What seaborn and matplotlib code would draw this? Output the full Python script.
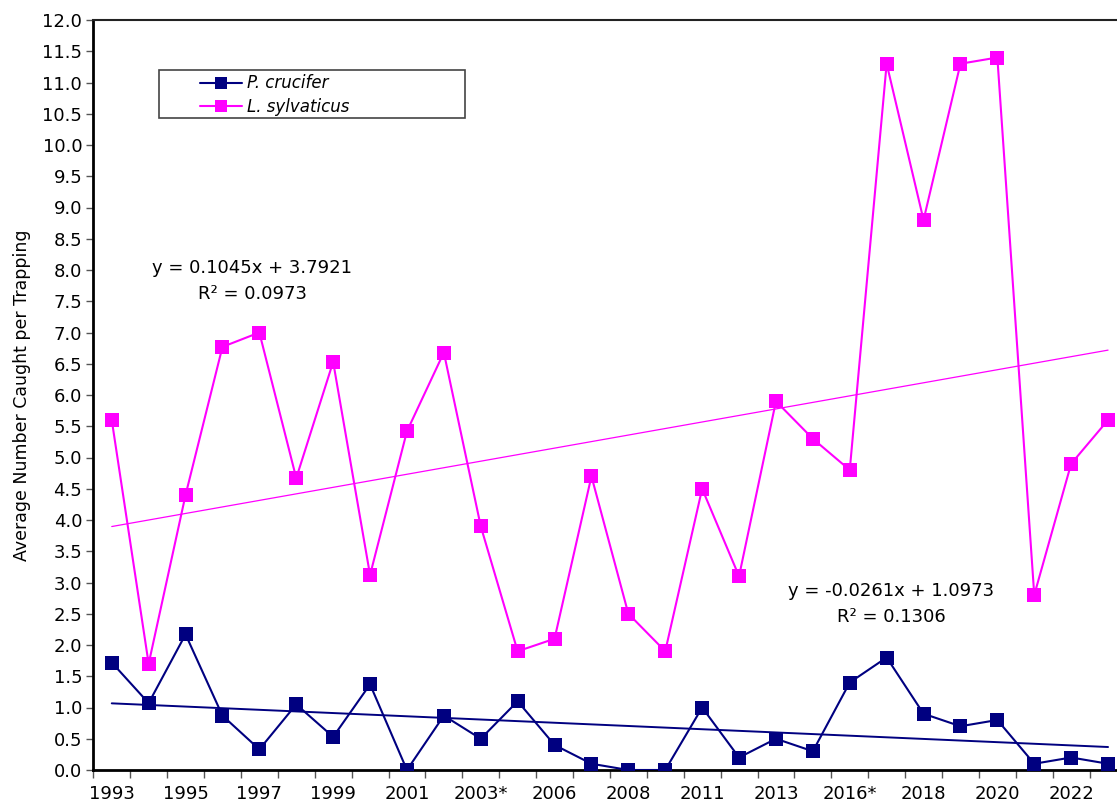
import numpy as np
import pandas as pd
import matplotlib
matplotlib.use("Agg")
import matplotlib.pyplot as plt
import seaborn as sns
from matplotlib.patches import Rectangle
from matplotlib.ticker import FixedLocator, FormatStrFormatter

years = ["1993", "1994", "1995", "1996", "1997", "1998", "1999", "2000", "2001", "2002",
         "2003*", "2005", "2006", "2007", "2008", "2010", "2011", "2012", "2013", "2015",
         "2016*", "2017", "2018", "2019", "2020", "2021", "2022", "2023"]
p_crucifer = [1.72, 1.07, 2.17, 0.87, 0.33, 1.05, 0.53, 1.37, 0.0, 0.87,
              0.5, 1.1, 0.4, 0.1, 0.0, 0.0, 1.0, 0.2, 0.5, 0.3,
              1.4, 1.8, 0.9, 0.7, 0.8, 0.1, 0.2, 0.1]
l_sylvaticus = [5.6, 1.7, 4.4, 6.77, 7.0, 4.67, 6.53, 3.12, 5.42, 6.68,
                3.9, 1.9, 2.1, 4.7, 2.5, 1.9, 4.5, 3.1, 5.9, 5.3,
                4.8, 11.3, 8.8, 11.3, 11.4, 2.8, 4.9, 5.6]
series_names = ["P. crucifer", "L. sylvaticus"]
colors = ["#000080", "#FF00FF"]
eq_texts = [("y = -0.0261x + 1.0973", "R\u00b2 = 0.1306"),
            ("y = 0.1045x + 3.7921", "R\u00b2 = 0.0973")]
ylabel = "Average Number Caught per Trapping"

sns.set_style("white")
plt.rcParams['font.family'] = ['DejaVu Sans']
plt.rcParams['text.color'] = 'black'
plt.rcParams['axes.labelcolor'] = 'black'
plt.rcParams['xtick.labelcolor'] = 'black'
plt.rcParams['ytick.labelcolor'] = 'black'

W, H = 1117, 806
fig = plt.figure(figsize=(W / 100, H / 100), dpi=100)
ax = fig.add_axes([93.3 / W, 36 / H, 1033.2 / W, 750 / H])

pos = np.arange(len(years))
df = pd.DataFrame({
    "pos": np.concatenate([pos, pos]),
    "value": p_crucifer + l_sylvaticus,
    "species": [series_names[0]] * len(years) + [series_names[1]] * len(years),
})

pal = dict(zip(series_names, colors))
sns.lineplot(data=df, x="pos", y="value", hue="species", style="species",
             palette=pal, markers={series_names[0]: "s", series_names[1]: "s"},
             dashes=False, linewidth=1.5, markersize=9.5, markeredgewidth=0,
             ax=ax, legend=False, zorder=3)

# trend lines
sns.regplot(x=pos, y=np.array(l_sylvaticus), scatter=False, ci=None, truncate=True,
            color=colors[1], line_kws={"linewidth": 0.9}, ax=ax)
sns.regplot(x=pos, y=np.array(p_crucifer), scatter=False, ci=None, truncate=True,
            color=colors[0], line_kws={"linewidth": 1.4}, ax=ax)

ax.set_xlim(-0.5, len(years) - 0.5)
ax.set_ylim(0, 12)
ax.set_yticks(np.arange(0, 12.01, 0.5))
ax.yaxis.set_major_formatter(FormatStrFormatter("%.1f"))
ax.set_xticks(pos[::2])
ax.set_xticklabels(years[::2])
ax.xaxis.set_minor_locator(FixedLocator(np.arange(-0.5, len(years), 1.0)))
ax.tick_params(axis="x", which="major", length=0, labelsize=13, pad=11)
ax.tick_params(axis="x", which="minor", length=6, width=1, color="#555555", direction="out", bottom=True)
ax.tick_params(axis="y", which="major", length=5, width=1, color="#555555", direction="out",
               labelsize=13, pad=3, left=True)
ax.set_xlabel("")
ax.set_ylabel(ylabel, fontsize=12.5, labelpad=8)

for side in ["left", "bottom"]:
    ax.spines[side].set_linewidth(2)
    ax.spines[side].set_color("black")
ax.spines["top"].set_linewidth(1.5)
ax.spines["top"].set_color("#222222")
ax.spines["right"].set_visible(False)


def fig_text(xp, yp, s):
    fig.text(xp / W, 1 - yp / H, s, fontsize=13, ha="center", va="center", color="black")


fig_text(252, 268, eq_texts[1][0])
fig_text(252, 294, eq_texts[1][1])
fig_text(891, 591, eq_texts[0][0])
fig_text(891, 617, eq_texts[0][1])

# legend
fig.patches.append(Rectangle((159 / W, 1 - 118 / H), 306 / W, 48 / H, transform=fig.transFigure,
                             facecolor="white", edgecolor="#444444", linewidth=1.2, zorder=5))
handles = [plt.Line2D([], [], color=c, marker="s", markersize=8, linewidth=1.5, markeredgewidth=0)
           for c in colors]
leg = fig.legend(handles, series_names, loc="upper left", bbox_to_anchor=(192 / W, 1 - 66 / H),
                 frameon=False, borderpad=0, handlelength=2.5, handletextpad=0.3,
                 labelspacing=0.35, prop={"style": "italic", "size": 12})
leg.set_zorder(6)

fig.savefig("out.png", dpi=100)
